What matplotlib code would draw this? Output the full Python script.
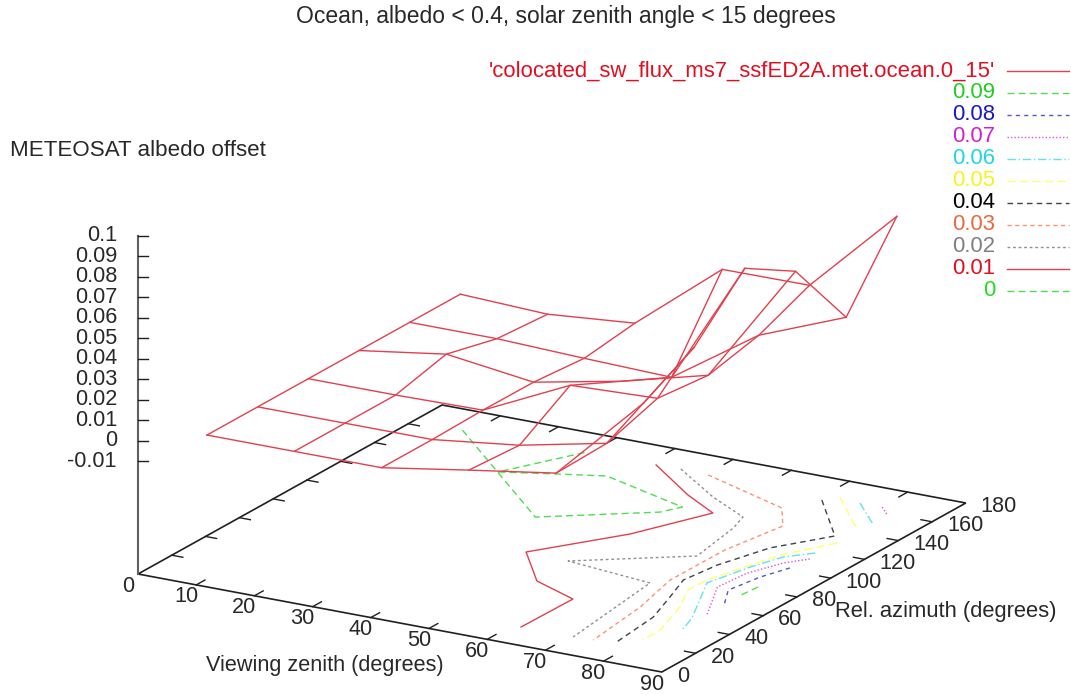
import matplotlib
matplotlib.use("Agg")
import numpy as np
import matplotlib.pyplot as plt

plt.rcParams['font.family'] = ['Liberation Sans', 'DejaVu Sans']

# surface samples, one row per azimuth
vz_grid = [7.5, 22.5, 37.5, 52.5, 67.5, 82.5]
az_grid = [15, 45, 75, 105, 135, 165]
offset_az15 = [0, 0, 0, 0.0068, 0.0133, 0.0554]
offset_az45 = [0, 0, 0, 0.0052, 0.0141, 0.0689]
offset_az75 = [0, 0, 0.0006, 0.0207, 0.0223, 0.0937]
offset_az105 = [0, 0.0062, 0.0005, 0.0089, 0.0198, 0.0785]
offset_az135 = [0, 0, -0.0016, -0.0029, 0.0256, 0.0423]
offset_az165 = [0, -0.0018, 0.0018, 0.036, 0.0362, 0.0778]

# contour lines on the base plane (viewing zenith, azimuth)
c00_vz = [8.4, 37.9, 52.8, 54.5, 37.6, 30.9, 22.7, 29.5]
c00_az = [163.1, 104.6, 127.2, 134.5, 148.0, 142.3, 135.0, 164.2]
c01_vz = [41.4, 52.4, 59.8, 54.0, 44.8, 52.9, 61.7, 61.5]
c01_az = [164.1, 145.0, 134.3, 105.2, 75.4, 53.9, 44.9, 14.9]
c02_vz = [45.5, 56.1, 64.6, 65.9, 67.7, 52.3, 67.9, 70.5]
c02_az = [164.6, 147.1, 135.6, 125.4, 97.7, 74.5, 69.2, 14.7]
c03_vz = [50.4, 67.5, 71.8, 69.9, 69.8, 72.2, 73.8]
c03_az = [163.9, 148.6, 134.4, 106.6, 74.5, 48.6, 15.3]
c04_vz = [70.8, 80.8, 75.2, 72.4, 71.5, 73.7, 76.2, 77.3]
c04_az = [160.9, 134.2, 115.0, 93.5, 76.5, 61.0, 42.5, 16.1]
c05a_vz = [72.4, 82.3]
c05a_az = [166.0, 142.3]
c05b_vz = [82.7, 78.2, 74.5, 74.4, 77.3, 80.1, 80.1]
c05b_az = [128.9, 110.9, 80.1, 69.3, 54.5, 33.2, 22.6]
c06a_vz = [76.4, 82.6]
c06a_az = [164.2, 150.1]
c06b_vz = [82.2, 79.0, 77.1, 75.2, 81.4, 82.9]
c06b_az = [117.7, 109.7, 96.8, 77.7, 47.5, 36.5]
c07a_vz = [80.2, 82.7]
c07a_az = [164.3, 158.7]
c07b_vz = [82.9, 80.4, 78.1, 77.5, 82.6]
c07b_az = [112.1, 104.9, 91.6, 76.0, 52.2]
c08_vz = [82.4, 80.7, 79.6, 82.5]
c08_az = [102.0, 90.4, 75.2, 62.7]
c09_vz = [82.7, 82.4]
c09_az = [82.1, 73.2]

vz_ticks = [0, 10, 20, 30, 40, 50, 60, 70, 80, 90]
az_ticks = [0, 20, 40, 60, 80, 100, 120, 140, 160, 180]
z_ticks = [-0.01, 0, 0.01, 0.02, 0.03, 0.04, 0.05, 0.06, 0.07, 0.08, 0.09, 0.1]
z_labels = ['-0.01', '0', '0.01', '0.02', '0.03', '0.04', '0.05', '0.06', '0.07', '0.08', '0.09', '0.1']
legend_labels = ["'colocated_sw_flux_ms7_ssfED2A.met.ocean.0_15'", '0.09', '0.08', '0.07', '0.06',
                 '0.05', '0.04', '0.03', '0.02', '0.01', '0']

RED = '#e2404e'
styles = {
    'surface': (RED, '-'),
    '0.09': ('#55dd55', (0, (5, 3))),
    '0.08': ('#5555cc', (0, (3, 3))),
    '0.07': ('#e050e0', (0, (1, 1.5))),
    '0.06': ('#60e4e4', (0, (6, 2, 1, 2))),
    '0.05': ('#ffff70', (0, (6, 3))),
    '0.04': ('#404050', (0, (4, 3))),
    '0.03': ('#ff9070', (0, (3, 2.5))),
    '0.02': ('#909090', (0, (2, 2))),
    '0.01': (RED, '-'),
    '0': ('#50dd50', (0, (5, 3))),
}
text_colors = {'0.09': '#22cc22', '0.08': '#1818c8', '0.07': '#d020d0', '0.06': '#20d8d8',
               '0.05': '#f4f420', '0.04': '#000000', '0.03': '#e86a40', '0.02': '#808080',
               '0.01': '#e01020', '0': '#22dd22'}

Z_BASE = -0.0649


# view of gnuplot's splot: parallel projection onto the page
def project(vz, az, z=Z_BASE):
    vz = np.asarray(vz, dtype=float)
    az = np.asarray(az, dtype=float)
    z = np.asarray(z, dtype=float)
    x = 138 + 5.82 * vz + 1.689 * az
    y = 574 + 1.089 * vz - 0.939 * az - 2050 * (z - Z_BASE)
    return x, y


fig = plt.figure(figsize=(10.71, 6.95), dpi=100)
ax = fig.add_axes([0, 0, 1, 1])
ax.set_xlim(0, 1071)
ax.set_ylim(695, 0)
ax.axis('off')

FS = 15.6
INK = '#282828'

# base box
bx, by = project([0, 90, 90, 0, 0], [0, 0, 180, 180, 0])
ax.plot(bx, by, color='#202020', lw=1.2, solid_joinstyle='miter')
zx, zy = project([0, 0], [0, 0], [Z_BASE, 0.1])
ax.plot(zx, zy, color='#606060', lw=1.5)

# ticks, mirrored on the far edges
for v in vz_ticks[1:-1]:
    for a, da in ((0, 5.2), (180, -5.2)):
        tx, ty = project([v, v], [a, a + da])
        ax.plot(tx, ty, color='#202020', lw=1.0)
for a in az_ticks[1:-1]:
    for v, dv in ((0, 1.9), (90, -1.9)):
        tx, ty = project([v, v + dv], [a, a])
        ax.plot(tx, ty, color='#202020', lw=1.0)
for z in z_ticks:
    tx, ty = project([0, 0], [0, 0], [z, z])
    ax.plot([tx[0], tx[0] + 10], ty, color='#202020', lw=1.0)
    ax.text(tx[0] - 21, ty[0], z_labels[z_ticks.index(z)], ha='right', va='center', fontsize=FS, color=INK)

for v in vz_ticks:
    tx, ty = project(v, 0)
    ax.text(tx - 10, ty + 12, str(v), ha='center', va='center', fontsize=FS, color=INK)
for a in az_ticks:
    tx, ty = project(90, a)
    ax.text(tx + 15, ty + 4, str(a), ha='left', va='center', fontsize=FS, color=INK)

# contours on the base
contours = [
    ('0', c00_vz, c00_az), ('0.01', c01_vz, c01_az), ('0.02', c02_vz, c02_az), ('0.03', c03_vz, c03_az),
    ('0.04', c04_vz, c04_az), ('0.05', c05a_vz, c05a_az), ('0.05', c05b_vz, c05b_az),
    ('0.06', c06a_vz, c06a_az), ('0.06', c06b_vz, c06b_az), ('0.07', c07a_vz, c07a_az),
    ('0.07', c07b_vz, c07b_az), ('0.08', c08_vz, c08_az), ('0.09', c09_vz, c09_az),
]
for name, cv, ca in contours:
    cx, cy = project(cv, ca)
    col, ls = styles[name]
    ax.plot(cx, cy, color=col, ls=ls, lw=1.0)

# surface mesh
offsets = np.array([offset_az15, offset_az45, offset_az75, offset_az105, offset_az135, offset_az165])
V, A = np.meshgrid(vz_grid, az_grid)
sx, sy = project(V, A, offsets)
col, ls = styles['surface']
for j in range(len(az_grid)):
    ax.plot(sx[j, :], sy[j, :], color=col, lw=1.0)
for i in range(len(vz_grid)):
    ax.plot(sx[:, i], sy[:, i], color=col, lw=1.0)

# key
for k, lab in enumerate(legend_labels):
    y = 71 + 22 * k
    name = 'surface' if k == 0 else lab
    tc = '#e01020' if k == 0 else text_colors[lab]
    ax.text(995, y, lab, ha='right', va='center', fontsize=15.9, color=tc)
    col, ls = styles[name]
    ax.plot([1007, 1069], [y, y], color=col, ls=ls, lw=1.0)

ax.text(566, 17, 'Ocean, albedo < 0.4, solar zenith angle < 15 degrees', ha='center', va='center', fontsize=16.5, color=INK)
ax.text(10, 150, 'METEOSAT albedo offset', ha='left', va='center', fontsize=16.1, color=INK)
ax.text(325, 666, 'Viewing zenith (degrees)', ha='center', va='center', fontsize=15.6, color=INK)
ax.text(946, 612, 'Rel. azimuth (degrees)', ha='center', va='center', fontsize=15.8, color=INK)

fig.savefig('out.png', dpi=100)
